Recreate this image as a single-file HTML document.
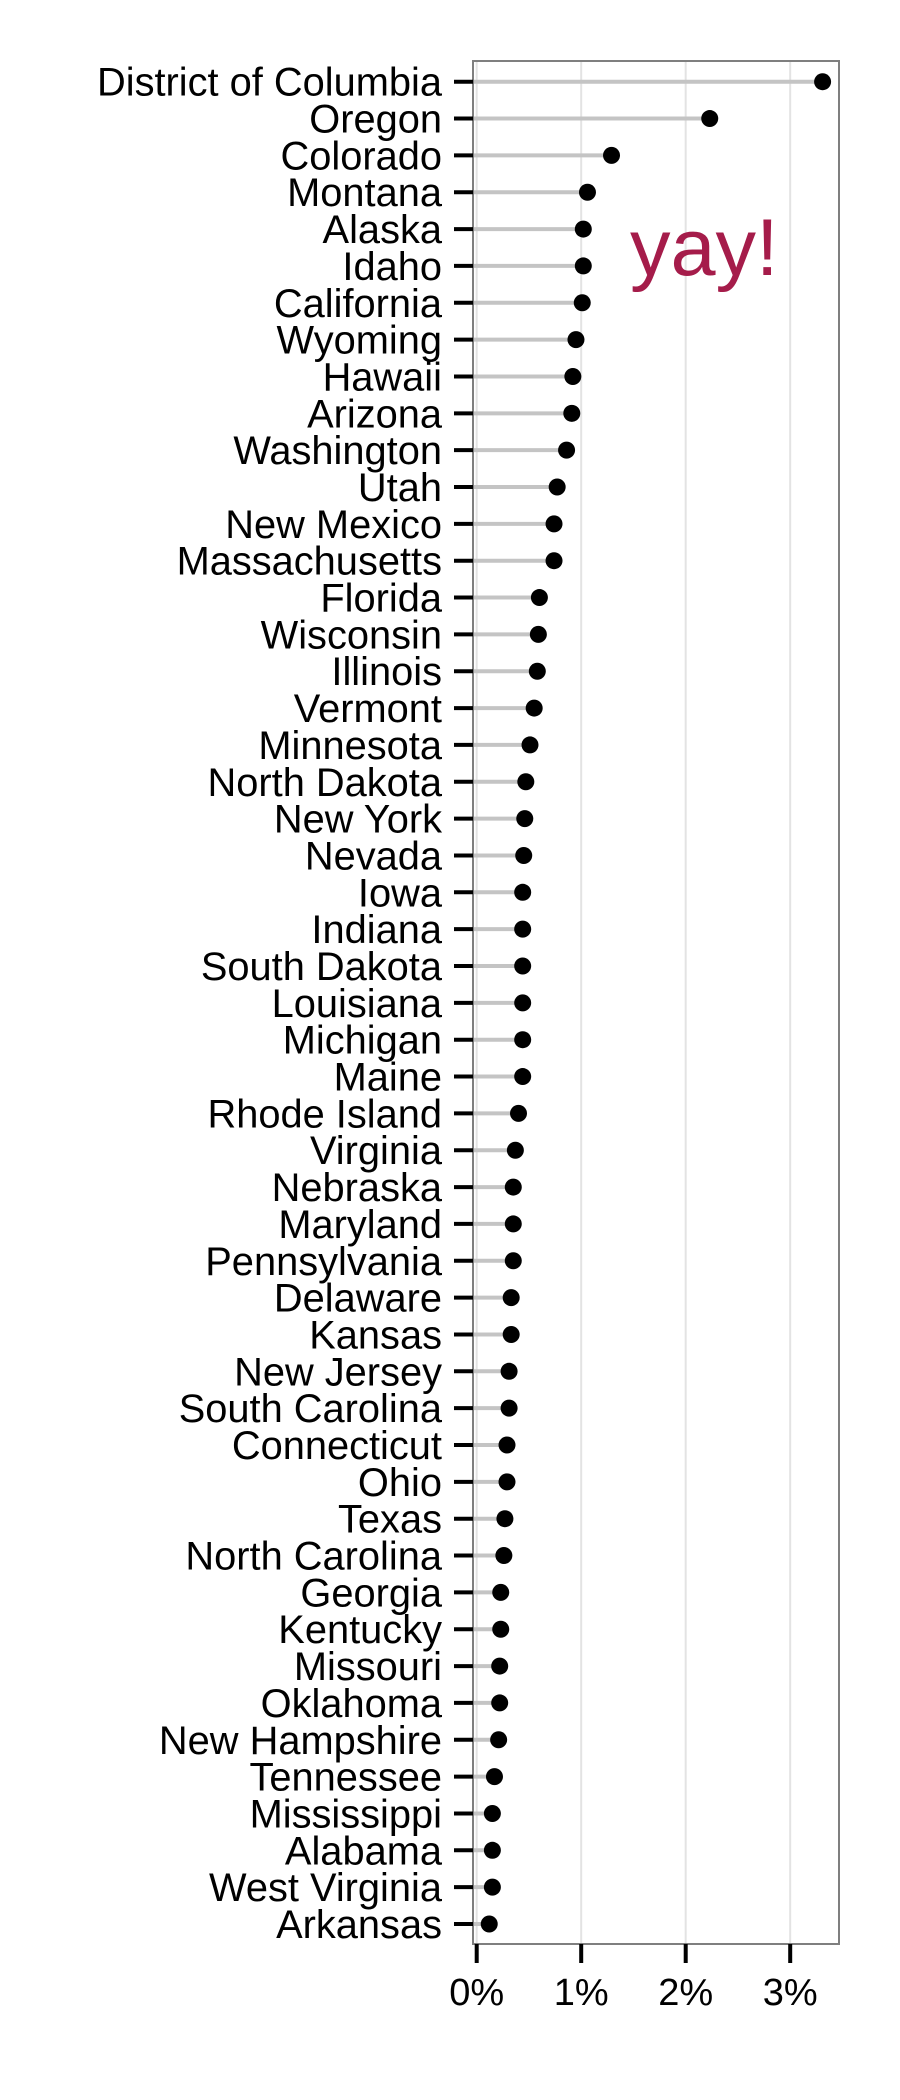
<!DOCTYPE html>
<html><head><meta charset="utf-8"><style>
html,body{margin:0;padding:0;background:#fff;}
svg{display:block;font-family:"Liberation Sans",Arial,sans-serif;}
</style></head><body>
<svg id="chart" width="900" height="2100" viewBox="0 0 900 2100">
<g id="grid"></g>
<g id="stems"></g>
<rect x="473" y="61" width="366" height="1883" fill="none" stroke="#7f7f7f" stroke-width="2"/>
<g id="yaxis"></g>
<g id="xaxis"></g>
<g id="dots"></g>
<text x="630" y="275" font-size="81" fill="#a51c4a">yay!</text>
</svg>
<script>
const states = ["District of Columbia","Oregon","Colorado","Montana","Alaska","Idaho","California","Wyoming","Hawaii","Arizona","Washington","Utah","New Mexico","Massachusetts","Florida","Wisconsin","Illinois","Vermont","Minnesota","North Dakota","New York","Nevada","Iowa","Indiana","South Dakota","Louisiana","Michigan","Maine","Rhode Island","Virginia","Nebraska","Maryland","Pennsylvania","Delaware","Kansas","New Jersey","South Carolina","Connecticut","Ohio","Texas","North Carolina","Georgia","Kentucky","Missouri","Oklahoma","New Hampshire","Tennessee","Mississippi","Alabama","West Virginia","Arkansas"];
const values = [3.31,2.23,1.29,1.06,1.02,1.02,1.01,0.95,0.92,0.91,0.86,0.77,0.74,0.74,0.60,0.59,0.58,0.55,0.51,0.47,0.46,0.45,0.44,0.44,0.44,0.44,0.44,0.44,0.40,0.37,0.35,0.35,0.35,0.33,0.33,0.31,0.31,0.29,0.29,0.27,0.26,0.23,0.23,0.22,0.22,0.21,0.17,0.15,0.15,0.15,0.12];
const xTicks = [0,1,2,3];
const xTickLabels = ["0%","1%","2%","3%"];

const NS="http://www.w3.org/2000/svg";
const x = v => 476.7 + v*104.5;
const y = i => 81.7 + i*(1924-81.7)/(states.length-1);
function mk(tag, attrs, parent){const e=document.createElementNS(NS,tag);for(const k in attrs)e.setAttribute(k,attrs[k]);parent.appendChild(e);return e;}
const grid=document.getElementById('grid'),stems=document.getElementById('stems'),dots=document.getElementById('dots'),ya=document.getElementById('yaxis'),xa=document.getElementById('xaxis');
xTicks.forEach((t,k)=>{
  const g=mk('line',{x1:x(t),x2:x(t),y1:61,y2:1944,stroke:'#e3e3e3','stroke-width':2},grid);
  
  
  const tk=mk('line',{x1:x(t),x2:x(t),y1:1944,y2:1963,stroke:'#000','stroke-width':4},xa);
  
  
  const tl=mk('text',{x:x(t),y:2005,'font-size':38,'text-anchor':'middle',fill:'#000'},xa);
  tl.textContent=xTickLabels[k];
  
  
});
states.forEach((s,i)=>{
  const yy=y(i);
  const st=mk('line',{x1:473,x2:x(values[i]),y1:yy,y2:yy,stroke:'#c4c4c4','stroke-width':4},stems);
  
  
  const d=mk('circle',{cx:x(values[i]),cy:yy,r:8.5,fill:'#000'},dots);
  
  
  const tk=mk('line',{x1:454,x2:473,y1:yy,y2:yy,stroke:'#000','stroke-width':4},ya);
  
  
  const tl=mk('text',{x:442,y:yy+14,'font-size':39.8,'text-anchor':'end',fill:'#000'},ya);
  tl.textContent=s;
  
  
});
</script>
</body></html>
